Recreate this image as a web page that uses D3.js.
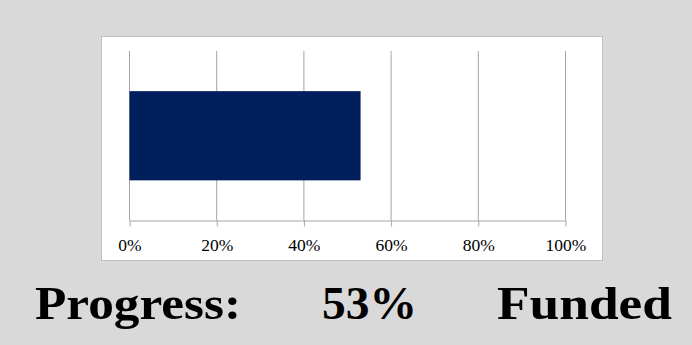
<!DOCTYPE html>
<html>
<head>
<meta charset="utf-8">
<script src="https://cdn.jsdelivr.net/npm/d3@7"></script>
<style>
  html, body { margin: 0; padding: 0; background: #d9d9d9; }
  svg { display: block; }
</style>
</head>
<body>
<div class="canvas"></div>
<script>
// data
const categories = ['Progress'];
const values = [0.53];
const tickValues = [0, 0.2, 0.4, 0.6, 0.8, 1];
const captionWords = ['Progress:', '53%', 'Funded'];

const WIDTH = 692, HEIGHT = 345;
const SERIF = '"Liberation Serif", "Times New Roman", Times, serif';

const svg = d3.select('.canvas').append('svg')
  .attr('width', WIDTH)
  .attr('height', HEIGHT);

svg.append('rect')
  .attr('width', WIDTH).attr('height', HEIGHT)
  .attr('fill', '#d9d9d9');

// chart box
svg.append('rect')
  .attr('x', 101.5).attr('y', 36.5)
  .attr('width', 501).attr('height', 224)
  .attr('fill', '#ffffff')
  .attr('stroke', '#bfbfbf')
  .attr('stroke-width', 1);

//scales
const x = d3.scaleLinear().domain([0, 1]).range([129.5, 565.5]);
const y = d3.scaleBand().domain(categories).range([51, 220.5])
  .paddingInner(0).paddingOuter(0.45);

// gridlines
svg.append('g').attr('class', 'grid')
  .selectAll('line')
  .data(tickValues)
  .join('line')
  .attr('x1', d => x(d)).attr('x2', d => x(d))
  .attr('y1', 51).attr('y2', 220.5)
  .attr('stroke', '#a6a6a6')
  .attr('stroke-width', 1);

// bars
svg.append('g').attr('class', 'bars')
  .selectAll('rect')
  .data(values)
  .join('rect')
  .attr('x', x(0))
  .attr('y', (d, i) => y(categories[i]))
  .attr('width', d => x(d) - x(0))
  .attr('height', y.bandwidth())
  .attr('fill', '#001f5c');

// x axis
const xAxis = d3.axisBottom(x)
  .tickValues(tickValues)
  .tickFormat(d3.format('.0%'))
  .tickSize(6)
  .tickSizeOuter(0)
  .tickPadding(12);

const xAxisGroup = svg.append('g')
  .attr('class', 'x-axis')
  .attr('transform', 'translate(0, 220.5)')
  .call(xAxis);

xAxisGroup.attr('font-family', SERIF).attr('font-size', 17.5);
xAxisGroup.select('.domain').attr('stroke', '#a6a6a6');
xAxisGroup.selectAll('.tick line').attr('stroke', '#a6a6a6');
xAxisGroup.selectAll('.tick text')
  .attr('fill', '#000')
  .style('font-family', SERIF)
  .style('font-size', '17.5px');

// caption
const captionX = [35, 322, 497];
const captionW = [206, 95, 175];
svg.append('g').attr('class', 'caption')
  .selectAll('text')
  .data(captionWords)
  .join('text')
  .attr('x', (d, i) => captionX[i])
  .attr('y', 319)
  .attr('textLength', (d, i) => captionW[i])
  .attr('lengthAdjust', 'spacingAndGlyphs')
  .attr('fill', '#000')
  .style('font-family', SERIF)
  .style('font-weight', 'bold')
  .style('font-size', '47px')
  .text(d => d);
</script>
</body>
</html>
